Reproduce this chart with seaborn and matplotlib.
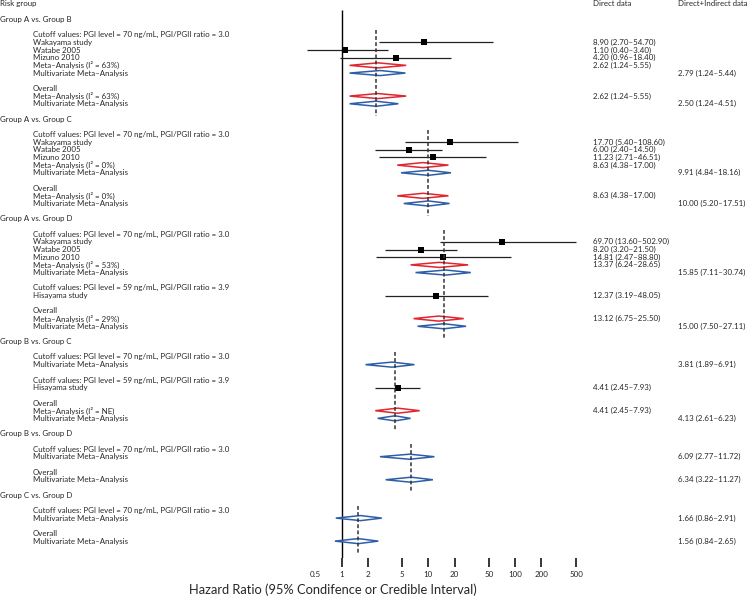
import numpy as np
import pandas as pd
import matplotlib
matplotlib.use("Agg")
import matplotlib.pyplot as plt
from matplotlib.patches import Polygon
from matplotlib.ticker import NullLocator
from matplotlib.transforms import blended_transform_factory
import seaborn as sns

# ---- data ----
CUT70 = "Cutoff values: PGI level = 70 ng/mL, PGI/PGII ratio = 3.0"
CUT59 = "Cutoff values: PGI level = 59 ng/mL, PGI/PGII ratio = 3.9"
MULTI = "Multivariate Meta\u2013Analysis"

row_text = [
    "Risk group", "",
    "Group A vs. Group B", "",
    CUT70, "Wakayama study", "Watabe 2005", "Mizuno 2010",
    "Meta\u2013Analysis (I\u00b2 = 63%)", MULTI, "",
    "Overall", "Meta\u2013Analysis (I\u00b2 = 63%)", MULTI, "",
    "Group A vs. Group C", "",
    CUT70, "Wakayama study", "Watabe 2005", "Mizuno 2010",
    "Meta\u2013Analysis (I\u00b2 = 0%)", MULTI, "",
    "Overall", "Meta\u2013Analysis (I\u00b2 = 0%)", MULTI, "",
    "Group A vs. Group D", "",
    CUT70, "Wakayama study", "Watabe 2005", "Mizuno 2010",
    "Meta\u2013Analysis (I\u00b2 = 53%)", MULTI, "",
    CUT59, "Hisayama study", "",
    "Overall", "Meta\u2013Analysis (I\u00b2 = 29%)", MULTI, "",
    "Group B vs. Group C", "",
    CUT70, MULTI, "",
    CUT59, "Hisayama study", "",
    "Overall", "Meta\u2013Analysis (I\u00b2 = NE)", MULTI, "",
    "Group B vs. Group D", "",
    CUT70, MULTI, "",
    "Overall", MULTI, "",
    "Group C vs. Group D", "",
    CUT70, MULTI, "",
    "Overall", MULTI,
]

# S = single study, M = meta-analysis, V = multivariate meta-analysis
row_kind = [
    "", "",
    "", "",
    "", "S", "S", "S", "M", "V", "",
    "", "M", "V", "",
    "", "",
    "", "S", "S", "S", "M", "V", "",
    "", "M", "V", "",
    "", "",
    "", "S", "S", "S", "M", "V", "",
    "", "S", "",
    "", "M", "V", "",
    "", "",
    "", "V", "",
    "", "S", "",
    "", "M", "V", "",
    "", "",
    "", "V", "",
    "", "V", "",
    "", "",
    "", "V", "",
    "", "V",
]

hr = [8.90, 1.10, 4.20, 2.62, 2.79, 2.62, 2.50,
      17.70, 6.00, 11.23, 8.63, 9.91, 8.63, 10.00,
      69.70, 8.20, 14.81, 13.37, 15.85, 12.37, 13.12, 15.00,
      3.81, 4.41, 4.41, 4.13,
      6.09, 6.34,
      1.66, 1.56]
ci_lo = [2.70, 0.40, 0.96, 1.24, 1.24, 1.24, 1.24,
         5.40, 2.40, 2.71, 4.38, 4.84, 4.38, 5.20,
         13.60, 3.20, 2.47, 6.24, 7.11, 3.19, 6.75, 7.50,
         1.89, 2.45, 2.45, 2.61,
         2.77, 3.22,
         0.86, 0.84]
ci_hi = [54.70, 3.40, 18.40, 5.55, 5.44, 5.55, 4.51,
         108.60, 14.50, 46.51, 17.00, 18.16, 17.00, 17.51,
         502.90, 21.50, 88.80, 28.65, 30.74, 48.05, 25.50, 27.11,
         6.91, 7.93, 7.93, 6.23,
         11.72, 11.27,
         2.91, 2.65]

x_ticks = [0.5, 1, 2, 5, 10, 20, 50, 100, 200, 500]
x_tick_labels = ["0.5", "1", "2", "5", "10", "20", "50", "100", "200", "500"]

# ---- table ----
marked = [i for i, k in enumerate(row_kind) if k]
df = pd.DataFrame({"y": marked, "kind": [row_kind[i] for i in marked],
                   "hr": hr, "lo": ci_lo, "hi": ci_hi})
df["label"] = df.apply(lambda r: f"{r.hr:.2f} ({r.lo:.2f}\u2013{r.hi:.2f})", axis=1)

sns.set_style("white")
plt.rcParams["font.family"] = ["Lato", "DejaVu Sans"]

RED = "#e0262f"
BLUE = "#2d5ea8"
FS = 5.7

fig = plt.figure(figsize=(7.5, 5.96), dpi=100)
ax = fig.add_axes([0, 38 / 596, 1, 558 / 596])
ax.set_xscale("log")

# studies: CI lines + squares
st = df[df.kind == "S"]
ax.hlines(st.y, st.lo, st.hi, color="#222222", lw=0.9, zorder=2)
sns.scatterplot(data=st, x="hr", y="y", marker="s", s=22, color="black",
                linewidth=0, legend=False, ax=ax, zorder=3)

# pooled estimates: diamonds
h = 0.33
for _, r in df[df.kind != "S"].iterrows():
    col = RED if r.kind == "M" else BLUE
    ax.add_patch(Polygon([(r.lo, r.y), (r.hr, r.y - h), (r.hi, r.y), (r.hr, r.y + h)],
                         closed=True, facecolor="none", edgecolor=col, lw=1.1, zorder=2))

# dashed line at overall multivariate estimate, per group
starts = [i for i, t in enumerate(row_text) if t.startswith("Group")]
ends = starts[1:] + [len(row_text)]
for s, e in zip(starts, ends):
    grp = df[(df.y > s) & (df.y < e)]
    xline = grp[grp.kind == "V"].hr.iloc[-1]
    last = max(i for i in range(s, e) if row_text[i])
    ax.vlines(xline, s + 2 - 0.6, last + 1.6, color="#333333", lw=1.1,
              linestyles=(0, (2.5, 1.5)), zorder=4)

# null line
ax.vlines(1, 0.78, 72.2, color="black", lw=1.0, zorder=1)

# texts
tr = blended_transform_factory(ax.transAxes, ax.transData)
for i, t in enumerate(row_text):
    if not t:
        continue
    x0 = 0.0 if (i == 0 or t.startswith("Group")) else 33 / 750
    ax.text(x0, i, t, transform=tr, ha="left", va="center", fontsize=FS)
ax.text(593 / 750, 0, "Direct data", transform=tr, ha="left", va="center", fontsize=FS)
ax.text(678 / 750, 0, "Direct+Indirect data", transform=tr, ha="left", va="center", fontsize=FS)
for _, r in df.iterrows():
    xc = 678 / 750 if r.kind == "V" else 593 / 750
    ax.text(xc, r.y, r.label, transform=tr, ha="left", va="center", fontsize=FS)

ax.set_xlim(10 ** (-341.5 / 86.9), 10 ** ((750 - 341.5) / 86.9))
ax.set_ylim(72.2, -0.52)
ax.set_yticks([])
ax.set_xticks(x_ticks)
ax.set_xticklabels(x_tick_labels)
ax.xaxis.set_minor_locator(NullLocator())
ax.tick_params(axis="x", length=6.5, width=1.1, pad=3, labelsize=5.8,
               direction="out", bottom=True, color="black")
ax.xaxis.get_major_ticks()[0].tick1line.set_visible(False)
for sp in ax.spines.values():
    sp.set_visible(False)
ax.set_ylabel("")
ax.set_xlabel("Hazard Ratio (95% Condifence or Credible Interval)", fontsize=9.3)
ax.xaxis.set_label_coords(333 / 750, -32 / 558)
ax.xaxis.label.set_va("center")

fig.savefig("out.png", dpi=100)
